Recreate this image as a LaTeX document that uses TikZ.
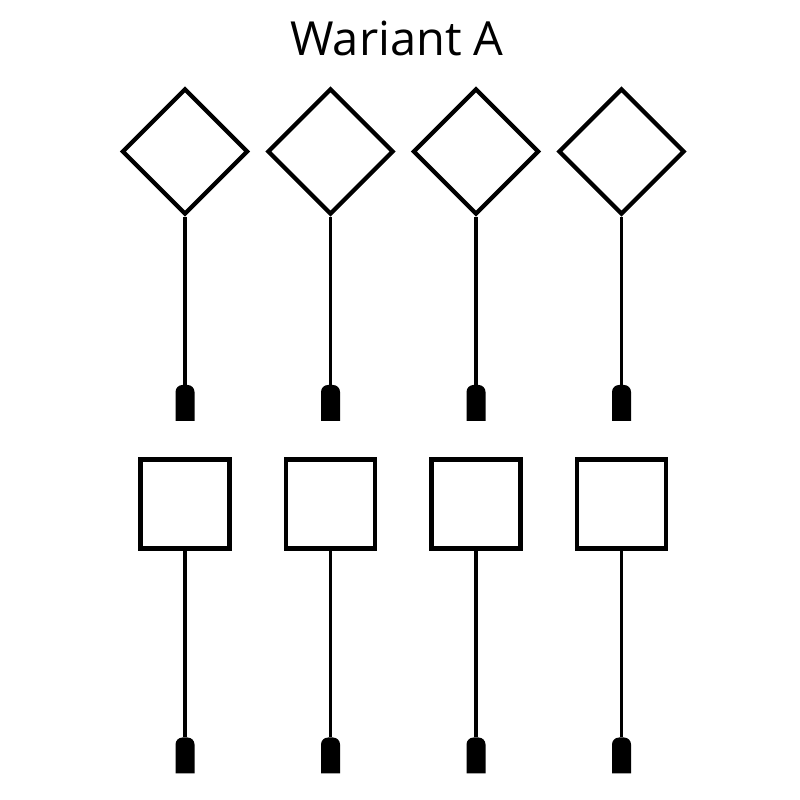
\documentclass[tikz,border=0pt]{standalone}
\usepackage{fontspec}
\setmainfont{Open Sans}
\usetikzlibrary{shapes.geometric}

\begin{document}
\begin{tikzpicture}[x=1pt,y=1pt,
    romb/.style={diamond,draw,line width=4.2pt,minimum width=126pt,minimum height=126pt,inner sep=0pt},
    kwadrat/.style={rectangle,draw,line width=4.2pt,minimum size=89pt,inner sep=0pt},
    nozka/.style={rectangle,minimum width=19pt,minimum height=36pt,inner sep=0pt,
      path picture={\fill (path picture bounding box.south west)
        -- ([yshift=-7pt]path picture bounding box.north west)
        arc[start angle=180,end angle=90,radius=7pt]
        -- ([xshift=-7pt]path picture bounding box.north east)
        arc[start angle=90,end angle=0,radius=7pt]
        -- (path picture bounding box.south east) -- cycle;}},
    trzonek/.style={line width=3.6pt}]
      \useasboundingbox (0,0) rectangle (800,800);
      % Tytul
      \node[anchor=base,font=\fontsize{47}{56}\selectfont] (tytul) at (397,744) {Wariant A};
      % Romby
      \node[romb] (r1) at (185,648.5) {};
      \node[romb] (r2) at (330.5,648.5) {};
      \node[romb] (r3) at (476,648.5) {};
      \node[romb] (r4) at (621.5,648.5) {};
      % Kwadraty
      \node[kwadrat] (k1) at (185,296) {};
      \node[kwadrat] (k2) at (330.5,296) {};
      \node[kwadrat] (k3) at (476,296) {};
      \node[kwadrat] (k4) at (621.5,296) {};
      % Nozki
      \node[nozka] (n1) at (185,397) {};
      \node[nozka] (n2) at (330.5,397) {};
      \node[nozka] (n3) at (476,397) {};
      \node[nozka] (n4) at (621.5,397) {};
      \node[nozka] (n5) at (185,44.5) {};
      \node[nozka] (n6) at (330.5,44.5) {};
      \node[nozka] (n7) at (476,44.5) {};
      \node[nozka] (n8) at (621.5,44.5) {};
      % Trzonki
      \draw[trzonek] (r1.south) -- (n1.north);
      \draw[trzonek] (r2.south) -- (n2.north);
      \draw[trzonek] (r3.south) -- (n3.north);
      \draw[trzonek] (r4.south) -- (n4.north);
      \draw[trzonek] (k1.south) -- (n5.north);
      \draw[trzonek] (k2.south) -- (n6.north);
      \draw[trzonek] (k3.south) -- (n7.north);
      \draw[trzonek] (k4.south) -- (n8.north);
    \end{tikzpicture}
\end{document}
